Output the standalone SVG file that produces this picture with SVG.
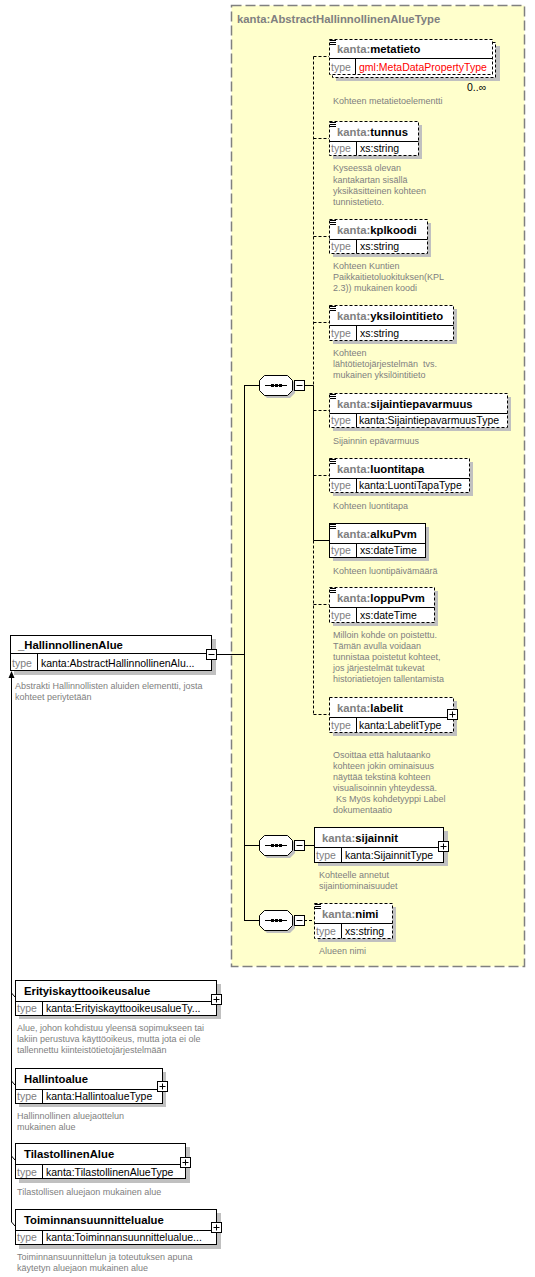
<svg xmlns="http://www.w3.org/2000/svg" xmlns:xlink="http://www.w3.org/1999/xlink" width="535" height="1277" viewBox="0 0 535 1277">
<style>
.bg{fill:#fff}
.sh{fill:#c0c0c0}
.box{fill:#fff;stroke:#000;stroke-width:1}
.opt{stroke-dasharray:3,2}
.ln{stroke:#000;stroke-width:1;fill:none}
.dl{stroke-dasharray:3,2}
.nm{font-family:"Liberation Sans",Arial,sans-serif;font-weight:bold;font-size:11.3px;fill:#000}
.pf{fill:#808080}
.tl{font-family:"Liberation Sans",Arial,sans-serif;font-size:10.5px;fill:#808080}
.tv{font-family:"Liberation Sans",Arial,sans-serif;font-size:10.5px;fill:#000}
.red{fill:#ff0000}
.ds{font-family:"Liberation Sans",Arial,sans-serif;font-size:9px;fill:#808080}
.title{font-family:"Liberation Sans",Arial,sans-serif;font-weight:bold;font-size:11.3px;fill:#808080}
</style>
<defs>
<g id="seq">
<polygon class="sh" points="8,3 31,3 36,8 36,18 31,23 8,23 3,18 3,8"/>
<polygon class="box" points="5.5,0.5 28.5,0.5 33.5,5.5 33.5,15.5 28.5,20.5 5.5,20.5 0.5,15.5 0.5,5.5"/>
<line class="ln" x1="6" y1="10.5" x2="28" y2="10.5"/>
<rect x="12" y="9" width="3" height="3" fill="#000"/>
<rect x="16" y="9" width="3" height="3" fill="#000"/>
<rect x="20" y="9" width="3" height="3" fill="#000"/>
<rect class="box" x="35.5" y="5.5" width="10" height="10"/>
<line class="ln" x1="37.5" y1="10.5" x2="43.5" y2="10.5"/>
</g>
<g id="doc">
<line class="ln" x1="1" y1="1.5" x2="7" y2="1.5"/>
<line class="ln" x1="1" y1="3.5" x2="7" y2="3.5"/>
<line class="ln" x1="1" y1="5.5" x2="7" y2="5.5"/>
</g>
<g id="plus">
<rect class="box" x="0.5" y="0.5" width="10" height="10"/>
<line class="ln" x1="2.5" y1="5.5" x2="8.5" y2="5.5"/>
<line class="ln" x1="5.5" y1="2.5" x2="5.5" y2="8.5"/>
</g>
<g id="minus">
<rect class="box" x="0.5" y="0.5" width="10" height="10"/>
<line class="ln" x1="2.5" y1="5.5" x2="8.5" y2="5.5"/>
</g>
</defs>
<rect class="bg" x="0" y="0" width="535" height="1277"/>

<g id="complexType">
<rect x="231.5" y="5.5" width="293" height="961" fill="#ffffcc" stroke="#808080" stroke-width="1.5" stroke-dasharray="10,4"/>
<text class="title" x="237" y="23">kanta:AbstractHallinnollinenAlueType</text>
</g>

<g id="connectors">
<line class="ln" x1="217" y1="654.5" x2="244.5" y2="654.5"/>
<line class="ln" x1="244.5" y1="385" x2="244.5" y2="920.5"/>
<line class="ln" x1="244" y1="385.5" x2="259" y2="385.5"/>
<line class="ln" x1="244" y1="845.5" x2="259" y2="845.5"/>
<line class="ln" x1="244" y1="920.5" x2="259" y2="920.5"/>
<line class="ln" x1="304" y1="385.5" x2="313.5" y2="385.5"/>
<line class="ln dl" x1="313.5" y1="56.5" x2="313.5" y2="385.5"/>
<line class="ln" x1="313.5" y1="385.5" x2="313.5" y2="540.5"/>
<line class="ln dl" x1="313.5" y1="540.5" x2="313.5" y2="714.5"/>
<line class="ln dl" x1="313.5" y1="56.5" x2="329" y2="56.5"/>
<line class="ln dl" x1="313.5" y1="138.5" x2="329" y2="138.5"/>
<line class="ln dl" x1="313.5" y1="236.5" x2="329" y2="236.5"/>
<line class="ln dl" x1="313.5" y1="322.5" x2="329" y2="322.5"/>
<line class="ln dl" x1="313.5" y1="410.5" x2="329" y2="410.5"/>
<line class="ln dl" x1="313.5" y1="475.5" x2="329" y2="475.5"/>
<line class="ln" x1="313.5" y1="540.5" x2="329" y2="540.5"/>
<line class="ln dl" x1="313.5" y1="604.5" x2="329" y2="604.5"/>
<line class="ln dl" x1="313.5" y1="714.5" x2="329" y2="714.5"/>
<line class="ln" x1="304" y1="845.5" x2="314" y2="845.5"/>
<line class="ln dl" x1="304" y1="920.5" x2="314" y2="920.5"/>
<line class="ln" x1="11.5" y1="677" x2="11.5" y2="1222"/>
<polygon points="11.5,671 8.5,678 14.5,678" fill="#000"/>
<line class="ln" x1="11.5" y1="993" x2="15" y2="997"/>
<line class="ln" x1="11.5" y1="1081" x2="15" y2="1085"/>
<line class="ln" x1="11.5" y1="1156" x2="15" y2="1160"/>
<line class="ln" x1="11.5" y1="1222" x2="15" y2="1226"/>
</g>

<g id="seq1"><use xlink:href="#seq" href="#seq" x="259" y="375"/></g>
<g id="seq2"><use xlink:href="#seq" href="#seq" x="259" y="835"/></g>
<g id="seq3"><use xlink:href="#seq" href="#seq" x="259" y="910"/></g>

<g id="metatieto">
<rect class="sh" x="336" y="46" width="164" height="35"/>
<rect class="box opt" x="332.5" y="42.5" width="163" height="35"/>
<rect class="box opt" x="329.5" y="39.5" width="163" height="35"/>
<line class="ln" x1="329.5" y1="58.5" x2="492.5" y2="58.5"/>
<line class="ln" x1="355.5" y1="58.5" x2="355.5" y2="74.5"/>
<use xlink:href="#doc" href="#doc" x="329" y="39"/>
<text class="nm" x="337" y="53"><tspan class="pf">kanta:</tspan>metatieto</text>
<text class="tl" x="331" y="70.5">type</text>
<text class="tv red" x="359" y="70.5">gml:MetaDataPropertyType</text>
<text class="tv" x="467" y="91">0..∞</text>
<text class="ds" x="333" y="104">Kohteen metatietoelementti</text>
</g>

<g id="tunnus">
<rect class="sh" x="333" y="125" width="89" height="34"/>
<rect class="box opt" x="329.5" y="121.5" width="89" height="34"/>
<line class="ln" x1="329.5" y1="141.5" x2="418.5" y2="141.5"/>
<line class="ln" x1="356.5" y1="141.5" x2="356.5" y2="155.5"/>
<use xlink:href="#doc" href="#doc" x="329" y="121"/>
<text class="nm" x="337" y="135.5"><tspan class="pf">kanta:</tspan>tunnus</text>
<text class="tl" x="331" y="152">type</text>
<text class="tv" x="360" y="152">xs:string</text>
<text class="ds" x="333" y="171">Kyseessä olevan</text>
<text class="ds" x="333" y="182.5">kantakartan sisällä</text>
<text class="ds" x="333" y="193.5">yksikäsitteinen kohteen</text>
<text class="ds" x="333" y="204.5">tunnistetieto.</text>
</g>

<g id="kplkoodi">
<rect class="sh" x="333" y="223" width="98" height="34"/>
<rect class="box opt" x="329.5" y="219.5" width="98" height="34"/>
<line class="ln" x1="329.5" y1="239.5" x2="427.5" y2="239.5"/>
<line class="ln" x1="356.5" y1="239.5" x2="356.5" y2="253.5"/>
<use xlink:href="#doc" href="#doc" x="329" y="219"/>
<text class="nm" x="337" y="233.5"><tspan class="pf">kanta:</tspan>kplkoodi</text>
<text class="tl" x="331" y="250">type</text>
<text class="tv" x="360" y="250">xs:string</text>
<text class="ds" x="333" y="269">Kohteen Kuntien</text>
<text class="ds" x="333" y="280">Paikkaitietoluokituksen(KPL</text>
<text class="ds" x="333" y="291">2.3)) mukainen koodi</text>
</g>

<g id="yksilointitieto">
<rect class="sh" x="333" y="309" width="124" height="35"/>
<rect class="box opt" x="329.5" y="305.5" width="124" height="35"/>
<line class="ln" x1="329.5" y1="325.5" x2="453.5" y2="325.5"/>
<line class="ln" x1="356.5" y1="325.5" x2="356.5" y2="340.5"/>
<use xlink:href="#doc" href="#doc" x="329" y="305"/>
<text class="nm" x="337" y="319.5"><tspan class="pf">kanta:</tspan>yksilointitieto</text>
<text class="tl" x="331" y="337">type</text>
<text class="tv" x="360" y="337">xs:string</text>
<text class="ds" x="333" y="356">Kohteen</text>
<text class="ds" x="333" y="367" xml:space="preserve">lähtötietojärjestelmän  tvs.</text>
<text class="ds" x="333" y="378">mukainen yksilöintitieto</text>
</g>

<g id="sijaintiepavarmuus">
<rect class="sh" x="333" y="397" width="178" height="34"/>
<rect class="box opt" x="329.5" y="393.5" width="178" height="34"/>
<line class="ln" x1="329.5" y1="413.5" x2="507.5" y2="413.5"/>
<line class="ln" x1="356.5" y1="413.5" x2="356.5" y2="427.5"/>
<use xlink:href="#doc" href="#doc" x="329" y="393"/>
<text class="nm" x="337" y="407.5"><tspan class="pf">kanta:</tspan>sijaintiepavarmuus</text>
<text class="tl" x="331" y="424">type</text>
<text class="tv" x="359" y="424">kanta:SijaintiepavarmuusType</text>
<text class="ds" x="333" y="443.5">Sijainnin epävarmuus</text>
</g>

<g id="luontitapa">
<rect class="sh" x="333" y="462" width="140" height="34"/>
<rect class="box opt" x="329.5" y="458.5" width="140" height="34"/>
<line class="ln" x1="329.5" y1="478.5" x2="469.5" y2="478.5"/>
<line class="ln" x1="356.5" y1="478.5" x2="356.5" y2="492.5"/>
<use xlink:href="#doc" href="#doc" x="329" y="458"/>
<text class="nm" x="337" y="472.5"><tspan class="pf">kanta:</tspan>luontitapa</text>
<text class="tl" x="331" y="489">type</text>
<text class="tv" x="359" y="489">kanta:LuontiTapaType</text>
<text class="ds" x="333" y="508.5">Kohteen luontitapa</text>
</g>

<g id="alkuPvm">
<rect class="sh" x="333" y="527" width="96" height="34"/>
<rect class="box" x="329.5" y="523.5" width="96" height="34"/>
<line class="ln" x1="329.5" y1="543.5" x2="425.5" y2="543.5"/>
<line class="ln" x1="356.5" y1="543.5" x2="356.5" y2="557.5"/>
<use xlink:href="#doc" href="#doc" x="329" y="523"/>
<text class="nm" x="337" y="537.5"><tspan class="pf">kanta:</tspan>alkuPvm</text>
<text class="tl" x="331" y="554">type</text>
<text class="tv" x="360" y="554">xs:dateTime</text>
<text class="ds" x="333" y="573.5">Kohteen luontipäivämäärä</text>
</g>

<g id="loppuPvm">
<rect class="sh" x="333" y="591" width="105" height="35"/>
<rect class="box opt" x="329.5" y="587.5" width="105" height="35"/>
<line class="ln" x1="329.5" y1="607.5" x2="434.5" y2="607.5"/>
<line class="ln" x1="356.5" y1="607.5" x2="356.5" y2="622.5"/>
<use xlink:href="#doc" href="#doc" x="329" y="587"/>
<text class="nm" x="337" y="601.5"><tspan class="pf">kanta:</tspan>loppuPvm</text>
<text class="tl" x="331" y="619">type</text>
<text class="tv" x="360" y="619">xs:dateTime</text>
<text class="ds" x="333" y="637.5">Milloin kohde on poistettu.</text>
<text class="ds" x="333" y="649">Tämän avulla voidaan</text>
<text class="ds" x="333" y="660">tunnistaa poistetut kohteet,</text>
<text class="ds" x="333" y="671">jos järjestelmät tukevat</text>
<text class="ds" x="333" y="682">historiatietojen tallentamista</text>
</g>

<g id="labelit">
<rect class="sh" x="333" y="701" width="124" height="35"/>
<rect class="box opt" x="329.5" y="697.5" width="124" height="35"/>
<line class="ln" x1="329.5" y1="717.5" x2="453.5" y2="717.5"/>
<line class="ln" x1="356.5" y1="717.5" x2="356.5" y2="732.5"/>
<use xlink:href="#plus" href="#plus" x="447" y="709"/>
<text class="nm" x="337" y="711.5"><tspan class="pf">kanta:</tspan>labelit</text>
<text class="tl" x="331" y="729">type</text>
<text class="tv" x="359" y="729">kanta:LabelitType</text>
<text class="ds" x="333" y="757.5">Osoittaa että halutaanko</text>
<text class="ds" x="333" y="768.5">kohteen jokin ominaisuus</text>
<text class="ds" x="333" y="779.5">näyttää tekstinä kohteen</text>
<text class="ds" x="333" y="791">visualisoinnin yhteydessä.</text>
<text class="ds" x="336" y="802">Ks Myös kohdetyyppi Label</text>
<text class="ds" x="333" y="813">dokumentaatio</text>
</g>

<g id="sijainnit">
<rect class="sh" x="318" y="831" width="130" height="35"/>
<rect class="box" x="314.5" y="827.5" width="129" height="35"/>
<line class="ln" x1="314.5" y1="847.5" x2="443.5" y2="847.5"/>
<line class="ln" x1="341.5" y1="847.5" x2="341.5" y2="862.5"/>
<use xlink:href="#plus" href="#plus" x="438" y="841"/>
<text class="nm" x="322" y="841.5"><tspan class="pf">kanta:</tspan>sijainnit</text>
<text class="tl" x="316" y="859">type</text>
<text class="tv" x="345" y="859">kanta:SijainnitType</text>
<text class="ds" x="319" y="877.5">Kohteelle annetut</text>
<text class="ds" x="319" y="888.5">sijaintiominaisuudet</text>
</g>

<g id="nimi">
<rect class="sh" x="318" y="907" width="78" height="35"/>
<rect class="box opt" x="314.5" y="903.5" width="78" height="35"/>
<line class="ln" x1="314.5" y1="923.5" x2="392.5" y2="923.5"/>
<line class="ln" x1="341.5" y1="923.5" x2="341.5" y2="938.5"/>
<use xlink:href="#doc" href="#doc" x="314" y="903"/>
<text class="nm" x="322" y="917.5"><tspan class="pf">kanta:</tspan>nimi</text>
<text class="tl" x="316" y="935">type</text>
<text class="tv" x="345" y="935">xs:string</text>
<text class="ds" x="319" y="953.5">Alueen nimi</text>
</g>

<g id="HallinnollinenAlue">
<rect class="sh" x="14" y="639" width="202" height="36"/>
<rect class="box" x="10.5" y="635.5" width="201" height="35"/>
<line class="ln" x1="10.5" y1="653.5" x2="211.5" y2="653.5"/>
<line class="ln" x1="37.5" y1="653.5" x2="37.5" y2="670.5"/>
<use xlink:href="#minus" href="#minus" x="206" y="649"/>
<text class="nm" x="18" y="649">_HallinnollinenAlue</text>
<text class="tl" x="12" y="667">type</text>
<text class="tv" x="41" y="667">kanta:AbstractHallinnollinenAlu...</text>
<text class="ds" x="15" y="688.5">Abstrakti Hallinnollisten aluiden elementti, josta</text>
<text class="ds" x="15" y="699.5">kohteet periytetään</text>
</g>

<g id="Erityiskayttooikeusalue">
<rect class="sh" x="19" y="984" width="202" height="35"/>
<rect class="box" x="15.5" y="980.5" width="201" height="35"/>
<line class="ln" x1="15.5" y1="1001.5" x2="216.5" y2="1001.5"/>
<line class="ln" x1="42.5" y1="1001.5" x2="42.5" y2="1015.5"/>
<use xlink:href="#plus" href="#plus" x="211" y="994"/>
<text class="nm" x="24" y="995">Erityiskayttooikeusalue</text>
<text class="tl" x="17" y="1012">type</text>
<text class="tv" x="46" y="1012">kanta:ErityiskayttooikeusalueTy...</text>
<text class="ds" x="17" y="1031">Alue, johon kohdistuu yleensä sopimukseen tai</text>
<text class="ds" x="17" y="1042">lakiin perustuva käyttöoikeus, mutta jota ei ole</text>
<text class="ds" x="17" y="1053">tallennettu kiinteistötietojärjestelmään</text>
</g>

<g id="Hallintoalue">
<rect class="sh" x="19" y="1072" width="147" height="35"/>
<rect class="box" x="15.5" y="1068.5" width="147" height="35"/>
<line class="ln" x1="15.5" y1="1089.5" x2="162.5" y2="1089.5"/>
<line class="ln" x1="42.5" y1="1089.5" x2="42.5" y2="1103.5"/>
<use xlink:href="#plus" href="#plus" x="157" y="1081"/>
<text class="nm" x="24" y="1083">Hallintoalue</text>
<text class="tl" x="17" y="1100">type</text>
<text class="tv" x="46" y="1100">kanta:HallintoalueType</text>
<text class="ds" x="17" y="1118.5">Hallinnollinen aluejaottelun</text>
<text class="ds" x="17" y="1129.5">mukainen alue</text>
</g>

<g id="TilastollinenAlue">
<rect class="sh" x="19" y="1147" width="171" height="36"/>
<rect class="box" x="15.5" y="1143.5" width="170" height="35"/>
<line class="ln" x1="15.5" y1="1164.5" x2="185.5" y2="1164.5"/>
<line class="ln" x1="42.5" y1="1164.5" x2="42.5" y2="1178.5"/>
<use xlink:href="#plus" href="#plus" x="180" y="1157"/>
<text class="nm" x="24" y="1158">TilastollinenAlue</text>
<text class="tl" x="17" y="1175.5">type</text>
<text class="tv" x="46" y="1175.5">kanta:TilastollinenAlueType</text>
<text class="ds" x="17" y="1194.5">Tilastollisen aluejaon mukainen alue</text>
</g>

<g id="Toiminnansuunnittelualue">
<rect class="sh" x="19" y="1213" width="202" height="36"/>
<rect class="box" x="15.5" y="1209.5" width="201" height="35"/>
<line class="ln" x1="15.5" y1="1230.5" x2="216.5" y2="1230.5"/>
<line class="ln" x1="42.5" y1="1230.5" x2="42.5" y2="1244.5"/>
<use xlink:href="#plus" href="#plus" x="211" y="1222"/>
<text class="nm" x="24" y="1224">Toiminnansuunnittelualue</text>
<text class="tl" x="17" y="1241">type</text>
<text class="tv" x="46" y="1241">kanta:Toiminnansuunnittelualue...</text>
<text class="ds" x="17" y="1259.5">Toiminnansuunnittelun ja toteutuksen apuna</text>
<text class="ds" x="17" y="1270.5">käytetyn aluejaon mukainen alue</text>
</g>
</svg>
